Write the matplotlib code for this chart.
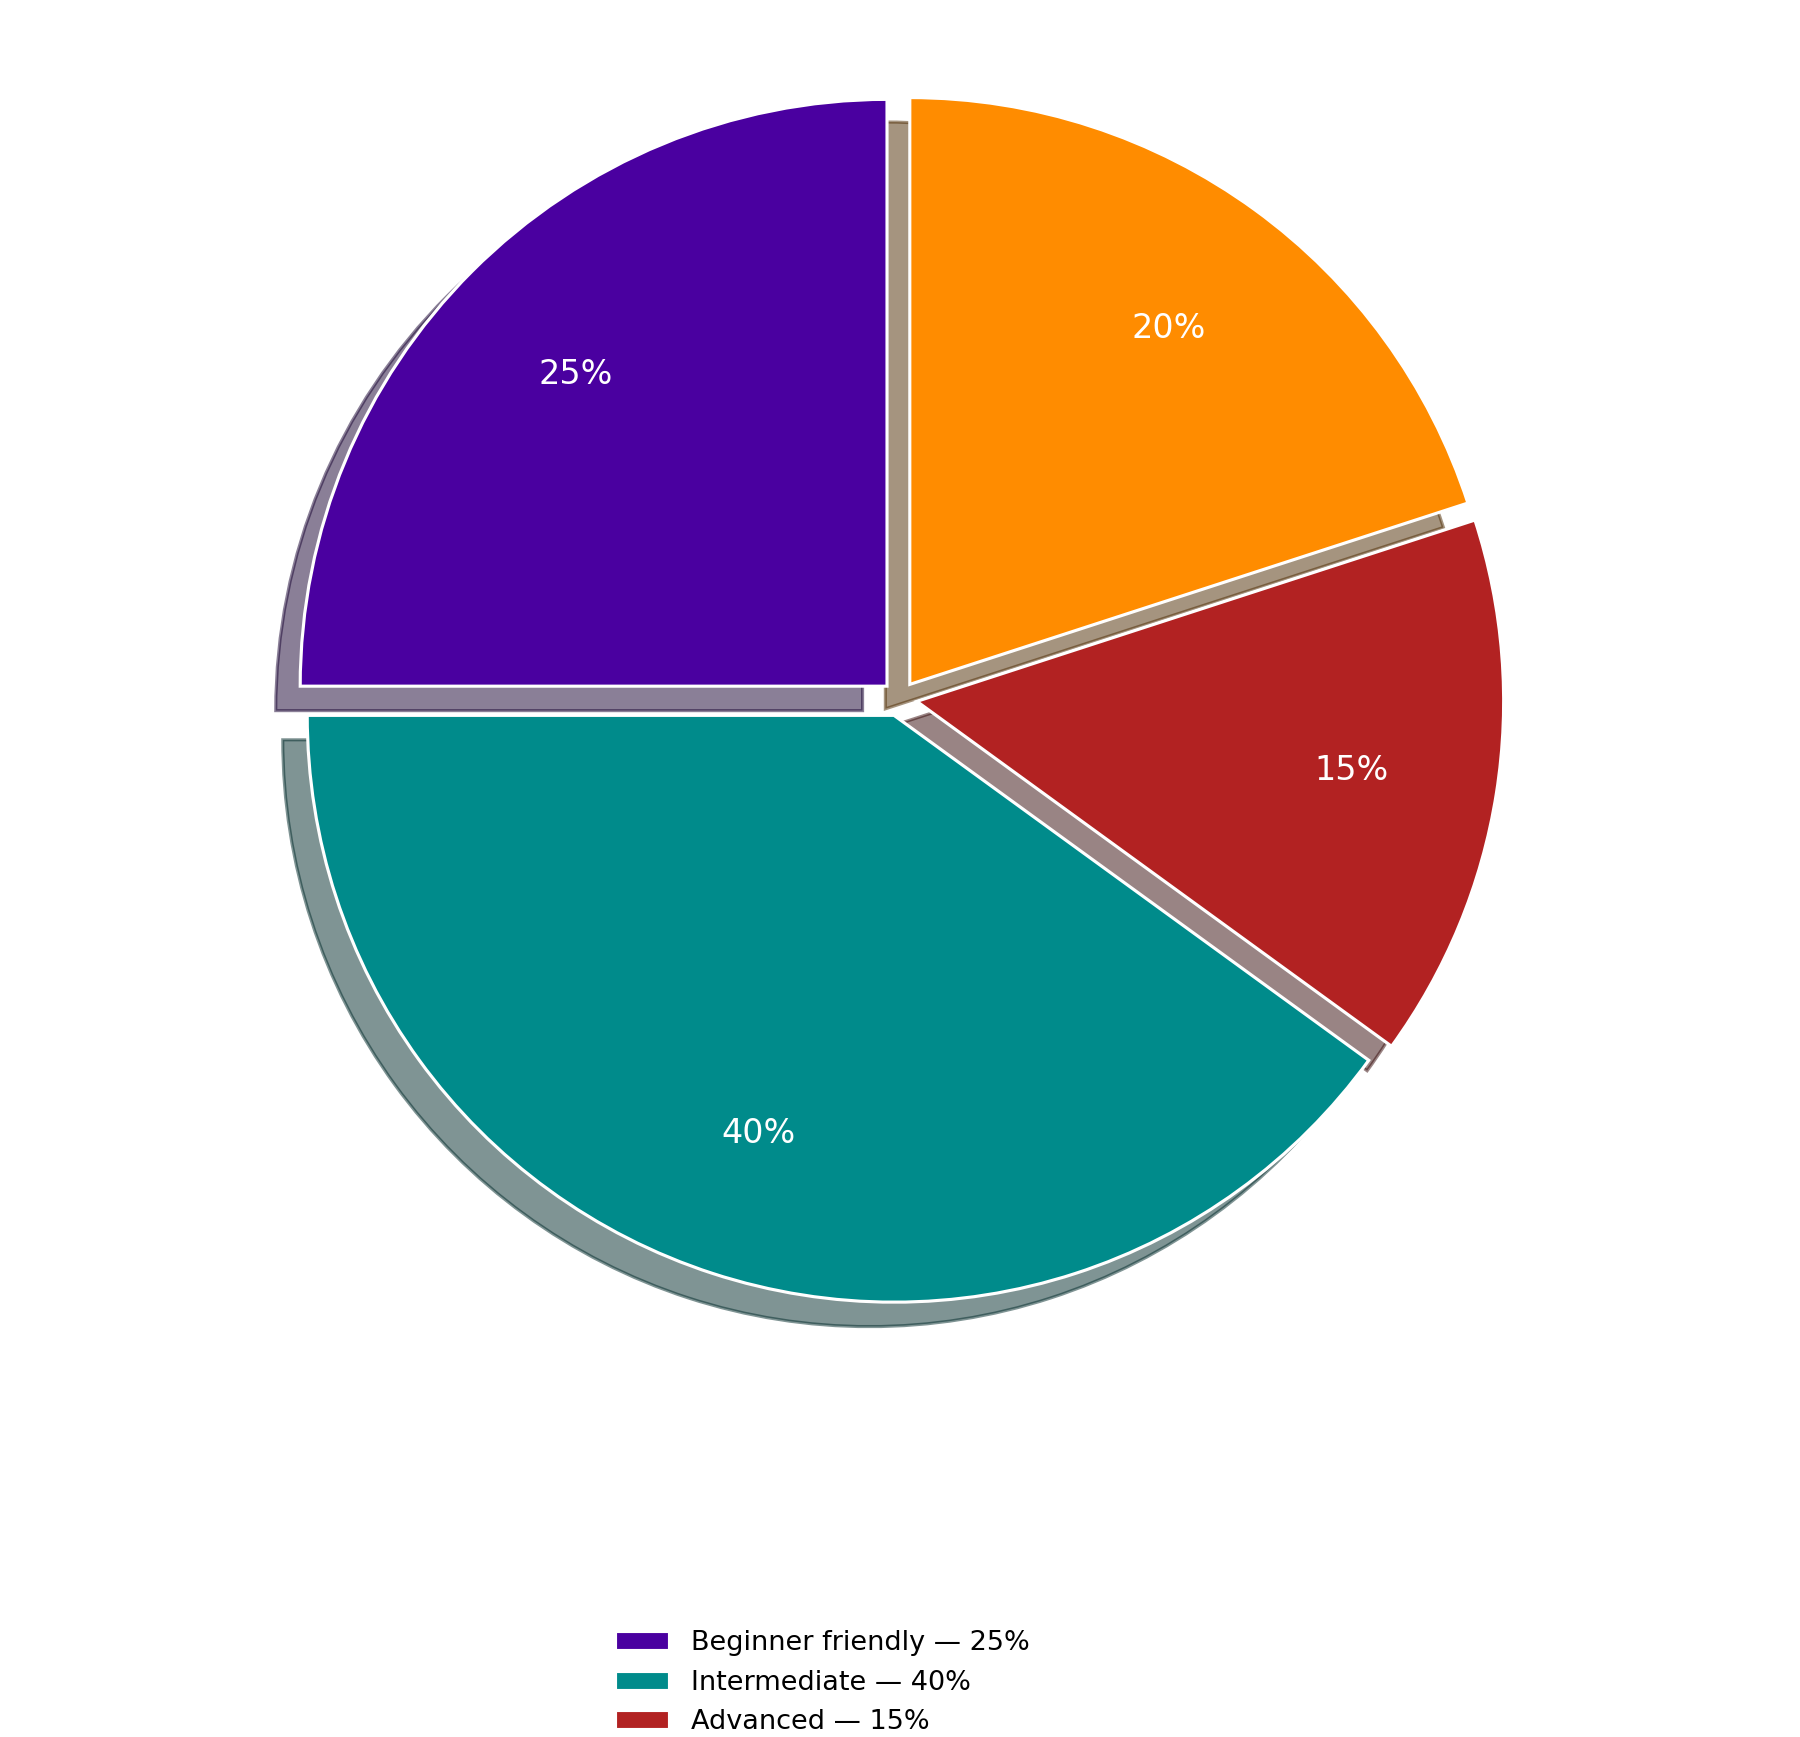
import matplotlib
matplotlib.use("Agg")
import matplotlib.pyplot as plt

categories = ["Beginner friendly", "Intermediate", "Advanced", "Expert"]
values = [25, 40, 15, 20]
colors = ["#4A00A0", "#008B8B", "#B22222", "#FF8C00"]
explode = [0.03, 0.03, 0.03, 0.03]

fig = plt.figure(figsize=(12, 11.58), dpi=150)
ax = fig.add_axes([0.0922, 0.1755, 0.815, 0.8446])

wedges, texts, autotexts = ax.pie(
    values,
    explode=explode,
    colors=colors,
    autopct="%1.0f%%",
    pctdistance=0.75,
    startangle=90,
    shadow=True,
    wedgeprops=dict(edgecolor="white", linewidth=1.5),
    textprops=dict(color="white", fontsize=16),
)
ax.set_xlim(-1.25, 1.25)
ax.set_ylim(-1.25, 1.25)
ax.set_aspect("equal")

labels = [f"{c} — {v}%" for c, v in zip(categories, values)]
fig.legend(wedges, labels, loc="upper left", bbox_to_anchor=(0.328, 0.0755),
           frameon=False, fontsize=13)

fig.savefig("out.png", dpi=150)
